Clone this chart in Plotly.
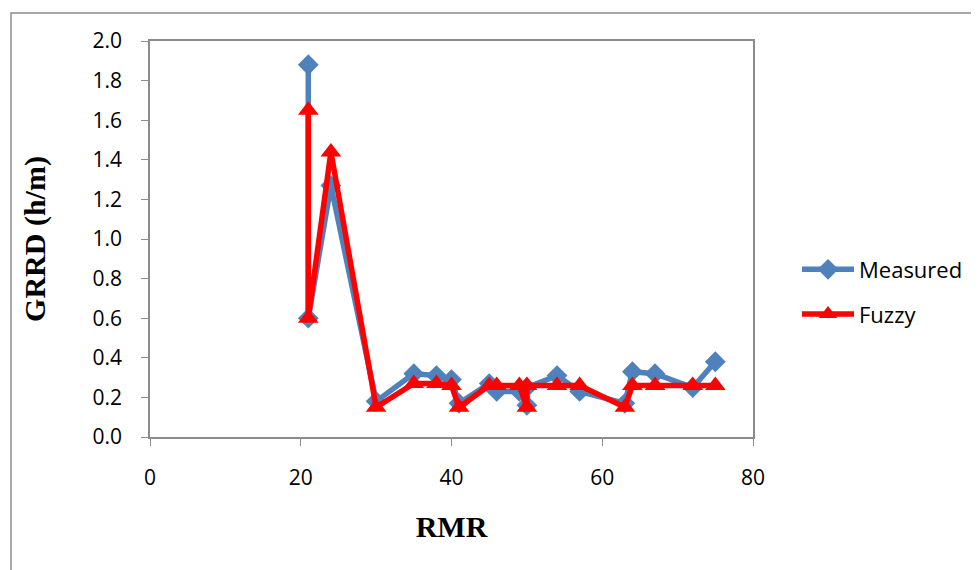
import plotly.graph_objects as go

rmr = [21, 21, 24, 30, 35, 38, 40, 41, 45, 46, 49, 50, 50, 54, 57, 63, 64, 67, 72, 75]
measured = [1.88, 0.60, 1.27, 0.18, 0.32, 0.31, 0.29, 0.17, 0.27, 0.23, 0.23, 0.16, 0.25, 0.31, 0.23, 0.17, 0.33, 0.32, 0.25, 0.38]
fuzzy = [1.65, 0.60, 1.44, 0.15, 0.27, 0.27, 0.26, 0.15, 0.26, 0.26, 0.26, 0.15, 0.26, 0.26, 0.26, 0.15, 0.26, 0.26, 0.26, 0.26]

x_ticks = [0, 20, 40, 60, 80]
y_ticks = [0.0, 0.2, 0.4, 0.6, 0.8, 1.0, 1.2, 1.4, 1.6, 1.8, 2.0]

fig = go.Figure()
fig.add_trace(go.Scatter(
    x=rmr, y=measured, name="Measured", mode="lines+markers",
    line=dict(color="#4F81BD", width=5.5),
    marker=dict(symbol="diamond", size=16, color="#4F81BD"),
    legendgroup="a",
))
fig.add_trace(go.Scatter(
    x=rmr, y=fuzzy, name="Fuzzy", mode="lines+markers",
    line=dict(color="#FF0000", width=5.5),
    marker=dict(symbol="triangle-up", size=18, color="#FF0000"),
    legendgroup="b",
))

axis_common = dict(
    showgrid=False, zeroline=False, showline=True, linecolor="#8C8C8C",
    linewidth=1.5, mirror=True, ticks="outside", ticklen=7, tickcolor="#8C8C8C",
    tickfont=dict(family="Open Sans, Lato, sans-serif", size=21, color="black"),
)

fig.update_layout(
    width=979, height=570,
    margin=dict(l=142, r=234, t=33, b=141),
    paper_bgcolor="white", plot_bgcolor="white",
    xaxis=dict(range=[0, 80], tickvals=x_ticks, ticktext=[str(v) for v in x_ticks],
               title=dict(text="<b>RMR</b>", font=dict(family="Liberation Serif", size=30, color="black"),
                          standoff=26),
               ticklabelstandoff=14, **axis_common),
    yaxis=dict(range=[0, 2.0], tickvals=y_ticks, ticktext=[f"{v:.1f}" for v in y_ticks],
               title=dict(text="<b>GRRD (h/m)</b>", font=dict(family="Liberation Serif", size=30, color="black"),
                          standoff=38),
               ticklabelstandoff=15, **axis_common),
    legend=dict(x=1.073, y=0.366, xanchor="left", yanchor="middle",
                font=dict(family="Open Sans, Lato, sans-serif", size=22, color="black"),
                tracegroupgap=13, itemwidth=52, bgcolor="rgba(0,0,0,0)"),
    showlegend=True,
)

fig.add_shape(type="rect", xref="paper", yref="paper",
              x0=(11 - 150) / 603, x1=(990 - 150) / 603,
              y0=(436 - 580) / 396, y1=(436 - 12) / 396,
              line=dict(color="#8C8C8C", width=1.5), fillcolor="rgba(0,0,0,0)", layer="below")

fig.write_html("out.html")
